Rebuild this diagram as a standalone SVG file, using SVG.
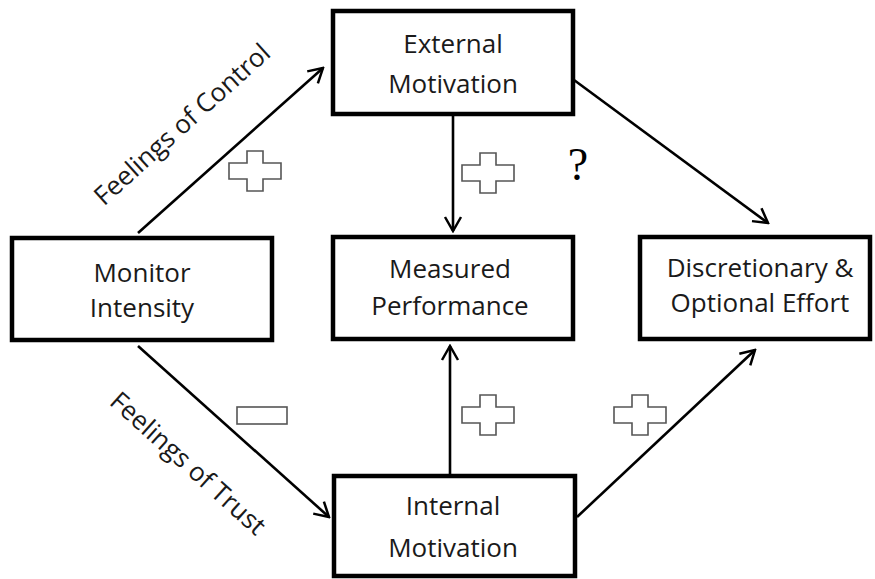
<svg xmlns="http://www.w3.org/2000/svg" width="875" height="579" viewBox="0 0 875 579">
<style>
.box{fill:#fff;stroke:#000;stroke-width:4.5}
.t{font-family:"Open Sans","Liberation Sans",sans-serif;font-size:26px;fill:#1a1a1a;text-anchor:middle}
.lbl{font-family:"Open Sans","Liberation Sans",sans-serif;font-size:26px;fill:#1a1a1a;text-anchor:middle}
.c{fill:none;stroke:#000;stroke-width:2.6}
.sign{fill:#fff;stroke:#555;stroke-width:1.6}
</style>
<defs>
<marker id="ah" viewBox="0 0 20 20" refX="18" refY="10" markerWidth="20" markerHeight="20" markerUnits="userSpaceOnUse" orient="auto">
<path d="M4,2 L18,10 L4,18" fill="none" stroke="#000" stroke-width="2.5"/>
</marker>
<path id="plus" d="M-8,-20 h16 v12 h18 v16 h-18 v12 h-16 v-12 h-18 v-16 h18 z"/>
</defs>
<rect width="875" height="579" fill="#fff"/>
<g id="connectors">
<line class="c" x1="138" y1="233" x2="323" y2="68" marker-end="url(#ah)"/>
<line class="c" x1="453" y1="115" x2="453" y2="231" marker-end="url(#ah)"/>
<line class="c" x1="574" y1="80" x2="768" y2="223" marker-end="url(#ah)"/>
<line class="c" x1="138" y1="346" x2="329" y2="517" marker-end="url(#ah)"/>
<line class="c" x1="450" y1="474" x2="450" y2="346" marker-end="url(#ah)"/>
<line class="c" x1="577" y1="517" x2="755" y2="350" marker-end="url(#ah)"/>
<text class="lbl" transform="translate(188,131) rotate(-42)">Feelings of Control</text>
<text class="lbl" transform="translate(182,470) rotate(42)">Feelings of Trust</text>
<use href="#plus" class="sign" x="255" y="171"/>
<use href="#plus" class="sign" x="488" y="173"/>
<use href="#plus" class="sign" x="488" y="415"/>
<use href="#plus" class="sign" x="640" y="415"/>
<rect class="sign" x="237" y="407" width="50" height="17"/>
<text x="578" y="180" font-family="'Liberation Serif',serif" font-size="46" fill="#000" text-anchor="middle">?</text>
</g>
<g id="external">
<rect class="box" x="333" y="11" width="240" height="103"/>
<text class="t" x="453" y="53">External</text>
<text class="t" x="453" y="93">Motivation</text>
</g>
<g id="monitor">
<rect class="box" x="12" y="238" width="260" height="102"/>
<text class="t" x="142" y="282">Monitor</text>
<text class="t" x="142" y="317">Intensity</text>
</g>
<g id="measured">
<rect class="box" x="333" y="237" width="240" height="102"/>
<text class="t" x="450" y="278">Measured</text>
<text class="t" x="450" y="315">Performance</text>
</g>
<g id="discretionary">
<rect class="box" x="640" y="237" width="230" height="102"/>
<text class="t" x="760" y="277">Discretionary &amp;</text>
<text class="t" x="760" y="312">Optional Effort</text>
</g>
<g id="internal">
<rect class="box" x="334" y="476" width="241" height="100"/>
<text class="t" x="453" y="515">Internal</text>
<text class="t" x="453" y="557">Motivation</text>
</g>
</svg>
